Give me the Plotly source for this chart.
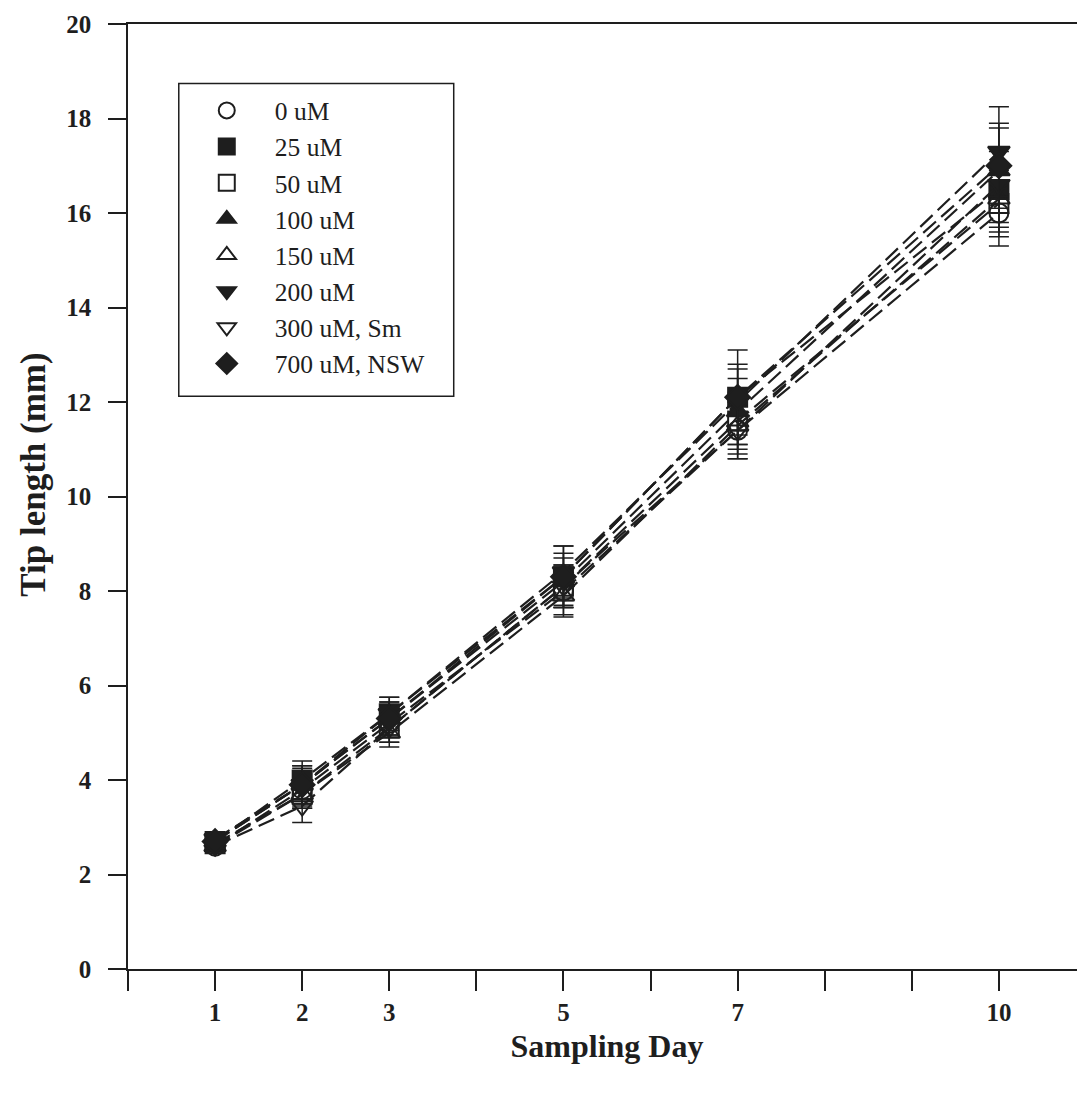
import plotly.graph_objects as go

days = [1, 2, 3, 5, 7, 10]
series_names = ["0 uM", "25 uM", "50 uM", "100 uM", "150 uM", "200 uM", "300 uM, Sm", "700 uM, NSW"]

v_0uM = [2.60, 3.80, 5.20, 8.00, 11.40, 16.00]
v_25uM = [2.70, 4.00, 5.40, 8.30, 12.10, 16.50]
v_50uM = [2.65, 3.70, 5.10, 8.10, 11.60, 16.20]
v_100uM = [2.70, 3.90, 5.30, 8.20, 11.80, 16.90]
v_150uM = [2.60, 3.70, 5.00, 7.90, 11.50, 16.30]
v_200uM = [2.75, 3.90, 5.40, 8.40, 12.00, 17.30]
v_300uM = [2.60, 3.45, 5.10, 8.10, 11.40, 16.60]
v_700uM = [2.70, 3.90, 5.30, 8.30, 12.10, 17.00]

e_0uM = [0.15, 0.35, 0.30, 0.50, 0.60, 0.70]
e_25uM = [0.15, 0.40, 0.35, 0.65, 1.00, 0.80]
e_50uM = [0.12, 0.30, 0.30, 0.45, 0.60, 0.70]
e_100uM = [0.15, 0.35, 0.35, 0.50, 0.70, 0.90]
e_150uM = [0.12, 0.30, 0.30, 0.45, 0.60, 0.70]
e_200uM = [0.15, 0.40, 0.35, 0.55, 0.70, 0.95]
e_300uM = [0.12, 0.35, 0.30, 0.45, 0.60, 0.80]
e_700uM = [0.15, 0.40, 0.35, 0.50, 0.70, 0.90]

values = [v_0uM, v_25uM, v_50uM, v_100uM, v_150uM, v_200uM, v_300uM, v_700uM]
errors = [e_0uM, e_25uM, e_50uM, e_100uM, e_150uM, e_200uM, e_300uM, e_700uM]
symbols = ["circle-open", "square", "square-open", "triangle-up", "triangle-up-open",
           "triangle-down", "triangle-down-open", "diamond"]

x_tickvals = list(range(0, 12))
x_ticktext = ["", "1", "2", "3", "", "5", "", "7", "", "", "10", ""]
y_tickvals = list(range(0, 21, 2))

ink = "#1e1e1e"
serif = "Liberation Serif, Times New Roman, serif"

fig = go.Figure()
for i, (name, vals, errs, sym) in enumerate(zip(series_names, values, errors, symbols)):
    fig.add_trace(go.Scatter(
        x=days, y=vals, name=name, mode="lines+markers", showlegend=False,
        line=dict(color=ink, width=2.2, dash="17px,7px"),
        marker=dict(symbol=sym, size=19, color=ink, line=dict(color=ink, width=2)),
        error_y=dict(type="data", array=errs, visible=True, color=ink, thickness=1.5, width=10),
    ))
# legend entries (markers only, as in the original key)
for i, (name, sym) in enumerate(zip(series_names, symbols)):
    fig.add_trace(go.Scatter(
        x=[None], y=[None], name=name, mode="markers", legendgroup=f"g{i}",
        marker=dict(symbol=sym, size=16, color=ink, line=dict(color=ink, width=2)),
    ))

# legend frame (the key box in the original is wider than its text)
fig.add_shape(type="rect", xref="paper", yref="paper",
              x0=0.053, x1=0.340, y0=0.606, y1=0.937,
              line=dict(color=ink, width=1.5), fillcolor="white", layer="below")

fig.update_layout(
    width=1085, height=1095,
    margin=dict(l=120, r=7, t=16, b=134),
    paper_bgcolor="white", plot_bgcolor="white",
    font=dict(family=serif, color=ink, size=24),
    showlegend=True,
    legend=dict(
        x=0.053, y=0.933, xanchor="left", yanchor="top",
        bgcolor="rgba(0,0,0,0)", borderwidth=0,
        font=dict(family=serif, size=25.5, color=ink),
        tracegroupgap=0, itemwidth=86,
    ),
    xaxis=dict(
        range=[0, 11], tickmode="array", tickvals=x_tickvals,
        ticktext=[f"<b>{t}</b>" if t else "" for t in x_ticktext],
        ticks="outside", ticklen=20, tickwidth=1.5, tickcolor=ink,
        showline=True, linecolor=ink, linewidth=1.5, mirror=True,
        showgrid=False, zeroline=False, automargin=False,
        tickfont=dict(family=serif, size=25, color=ink),
        title=dict(text="<b>Sampling Day</b>", font=dict(family=serif, size=32, color=ink), standoff=10),
    ),
    yaxis=dict(
        range=[0, 20], tickmode="array", tickvals=y_tickvals,
        ticktext=[f"<b>{v}</b>" for v in y_tickvals],
        ticks="outside", ticklen=18, tickwidth=1.5, tickcolor=ink,
        ticklabelstandoff=12,
        showline=True, linecolor=ink, linewidth=1.5, mirror=True,
        showgrid=False, zeroline=False, automargin=False,
        tickfont=dict(family=serif, size=25, color=ink),
    ),
    annotations=[dict(
        text="<b>Tip length (mm)</b>", textangle=-90, showarrow=False,
        xref="paper", yref="paper", x=-0.0982, y=0.523, xanchor="center", yanchor="middle",
        font=dict(family=serif, size=35, color=ink),
    )],
)

fig.write_html("out.html")
